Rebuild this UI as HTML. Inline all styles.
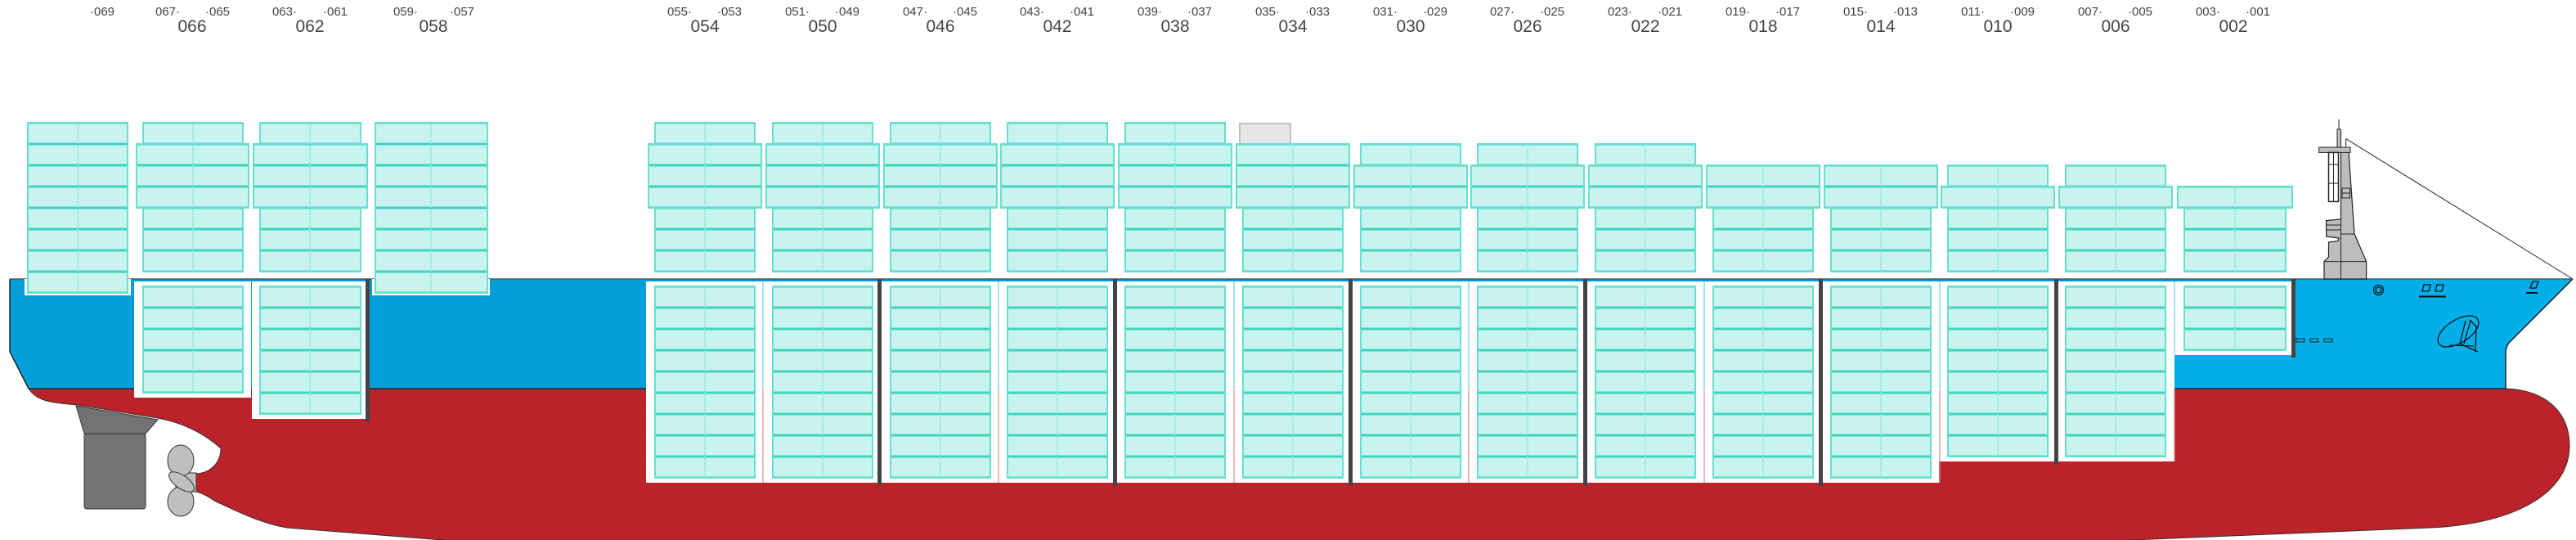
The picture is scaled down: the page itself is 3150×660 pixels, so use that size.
<!DOCTYPE html>
<html><head><meta charset="utf-8"><style>
html,body{margin:0;padding:0;background:#fff;width:3150px;height:660px;overflow:hidden}
svg{display:block}
text{font-family:"Liberation Sans",Arial,sans-serif;fill:#444}
.s{font-size:15px}.b{font-size:21px}
.n{fill:url(#pa);stroke:#66dfcf;stroke-width:2}
.h{fill:url(#pb);stroke:#66dfcf;stroke-width:2}
.c{stroke:#86e4d6;stroke-width:1.5;stroke-dasharray:2 1}
.k{fill:#444}
</style></head><body>
<svg width="3150" height="660" viewBox="0 0 3150 660" xmlns="http://www.w3.org/2000/svg">
<defs>
<pattern id="pa" patternUnits="userSpaceOnUse" x="0" y="150" width="10" height="26"><rect width="10" height="26" fill="#c9f3ee"/><rect width="10" height="1.5" fill="#40d3bf"/><rect y="24.5" width="10" height="1.5" fill="#40d3bf"/></pattern>
<pattern id="pb" patternUnits="userSpaceOnUse" x="0" y="350" width="10" height="26"><rect width="10" height="26" fill="#c9f3ee"/><rect width="10" height="1.5" fill="#40d3bf"/><rect y="24.5" width="10" height="1.5" fill="#40d3bf"/></pattern>
</defs>

<!-- hull -->
<path d="M35,475 H3064 C3115,477 3142,505 3142,545 C3142,600 3080,640 2972,645 L2510,664 L592,664 L351,645 C320,640 290,625 262,612 C255,607 248,603 240,601 V579 C258,578 270,565 270,548 C250,530 225,517 193,511 L95,495 C60,492 45,490 35,475 Z" fill="#bb2229" stroke="#333" stroke-width="1"/>
<path d="M12,341 H2806 V476 H35 L12,430 Z" fill="#029fda"/>
<path d="M2806,341 H3146 L3068,419 Q3064,424 3064,432 V476 H2806 Z" fill="#02aee8"/>
<rect x="2659" y="434" width="148" height="42" fill="#02aee8"/>
<path d="M12,341 V430 L35,475 H3064 M3146,341 L3068,419 Q3064,424 3064,432 V476" fill="none" stroke="#222" stroke-width="1.5"/>
<line x1="12" y1="341" x2="3146" y2="341" stroke="#555" stroke-width="1.5"/>

<!-- rudder + propeller -->
<path d="M93,496 L193,513 L178,530 L103,530 Z" fill="#737373" stroke="#333"/>
<rect x="103" y="530" width="75" height="92" rx="3" fill="#737373" stroke="#333"/>
<rect x="215" y="578" width="25" height="23" fill="#bfbfbf" stroke="#333"/>
<ellipse cx="221" cy="563" rx="16" ry="19" fill="#bfbfbf" stroke="#333"/>
<ellipse cx="221" cy="613" rx="16" ry="18" fill="#bfbfbf" stroke="#333"/>
<ellipse cx="222" cy="589" rx="18" ry="8" transform="rotate(35 222 589)" fill="#bfbfbf" stroke="#333"/>

<!-- white holds / backings -->
<rect x="30" y="341" width="130" height="20" fill="#fff"/>
<rect x="455" y="341" width="144" height="20" fill="#fff"/>
<rect x="164" y="344" width="143" height="142" fill="#fff"/>
<rect x="308" y="344" width="139" height="168" fill="#fff"/>
<rect x="790" y="344" width="1581" height="246" fill="#fff"/>
<rect x="2371" y="344" width="288" height="220" fill="#fff"/>
<rect x="2659" y="344" width="144" height="90" fill="#fff"/>

<!-- thin dividers -->
<g stroke-width="1.2">
<path d="M933,344V476M1221,344V476M1509,344V476M1796,344V476M2084,344V476M2372,344V476M2659,344V434" stroke="#6fcff0"/>
<path d="M933,476V590M1221,476V590M1509,476V590M1796,476V590M2084,476V590M2372,476V590M2659,476V564" stroke="#e08890"/>
</g>

<!-- bulkheads -->
<rect x="447" y="341" width="5" height="175" class="k"/>
<rect x="1073" y="341" width="5" height="253" class="k"/>
<rect x="1361" y="341" width="5" height="253" class="k"/>
<rect x="1649" y="341" width="5" height="253" class="k"/>
<rect x="1936" y="341" width="5" height="253" class="k"/>
<rect x="2224" y="341" width="5" height="253" class="k"/>
<rect x="2512" y="341" width="5" height="227" class="k"/>
<rect x="2802" y="341" width="5" height="96" class="k"/>
<g fill="none" stroke="#222" stroke-width="1"><rect x="2808" y="414" width="10" height="4"/><rect x="2825" y="414" width="10" height="4"/><rect x="2842" y="414" width="10" height="4"/></g>

<!-- stern stacks -->
<rect class="n" x="34" y="150" width="122" height="208"/><line class="c" x1="95" y1="150" x2="95" y2="358"/>
<rect class="n" x="459" y="150" width="137" height="208"/><line class="c" x1="527" y1="150" x2="527" y2="358"/>
<rect class="n" x="175" y="150" width="122" height="26"/><rect class="n" x="167" y="176" width="137" height="78"/><rect class="n" x="175" y="254" width="122" height="78"/><line class="c" x1="236" y1="150" x2="236" y2="332"/>
<rect class="n" x="318" y="150" width="123" height="26"/><rect class="n" x="310" y="176" width="139" height="78"/><rect class="n" x="318" y="254" width="123" height="78"/><line class="c" x1="379" y1="150" x2="379" y2="332"/>
<rect class="h" x="175" y="350" width="122" height="130"/><line class="c" x1="236" y1="350" x2="236" y2="480"/>
<rect class="h" x="318" y="350" width="123" height="156"/><line class="c" x1="379" y1="350" x2="379" y2="506"/>

<!-- main bays above deck -->
<g>
<rect class="n" x="801" y="150" width="122" height="26"/><rect class="n" x="793" y="176" width="138" height="78"/><rect class="n" x="801" y="254" width="122" height="78"/>
<rect class="n" x="945" y="150" width="122" height="26"/><rect class="n" x="937" y="176" width="138" height="78"/><rect class="n" x="945" y="254" width="122" height="78"/>
<rect class="n" x="1089" y="150" width="122" height="26"/><rect class="n" x="1081" y="176" width="138" height="78"/><rect class="n" x="1089" y="254" width="122" height="78"/>
<rect class="n" x="1232" y="150" width="122" height="26"/><rect class="n" x="1224" y="176" width="138" height="78"/><rect class="n" x="1232" y="254" width="122" height="78"/>
<rect class="n" x="1376" y="150" width="122" height="26"/><rect class="n" x="1368" y="176" width="138" height="78"/><rect class="n" x="1376" y="254" width="122" height="78"/>
<rect x="1516" y="151" width="62" height="26" fill="#e6e6e8" stroke="#bdbfc3" stroke-width="2"/><rect class="n" x="1512" y="176" width="138" height="78"/><rect class="n" x="1520" y="254" width="122" height="78"/>
<rect class="n" x="1664" y="176" width="122" height="26"/><rect class="n" x="1656" y="202" width="138" height="52"/><rect class="n" x="1664" y="254" width="122" height="78"/>
<rect class="n" x="1807" y="176" width="122" height="26"/><rect class="n" x="1799" y="202" width="138" height="52"/><rect class="n" x="1807" y="254" width="122" height="78"/>
<rect class="n" x="1951" y="176" width="122" height="26"/><rect class="n" x="1943" y="202" width="138" height="52"/><rect class="n" x="1951" y="254" width="122" height="78"/>
<rect class="n" x="2087" y="202" width="138" height="52"/><rect class="n" x="2095" y="254" width="122" height="78"/>
<rect class="n" x="2231" y="202" width="138" height="52"/><rect class="n" x="2239" y="254" width="122" height="78"/>
<rect class="n" x="2382" y="202" width="122" height="26"/><rect class="n" x="2374" y="228" width="138" height="26"/><rect class="n" x="2382" y="254" width="122" height="78"/>
<rect class="n" x="2526" y="202" width="122" height="26"/><rect class="n" x="2518" y="228" width="138" height="26"/><rect class="n" x="2526" y="254" width="122" height="78"/>
<rect class="n" x="2663" y="228" width="140" height="26"/><rect class="n" x="2671" y="254" width="124" height="78"/>
</g>
<g class="c">
<line x1="862" y1="150" x2="862" y2="332"/><line x1="1006" y1="150" x2="1006" y2="332"/><line x1="1150" y1="150" x2="1150" y2="332"/><line x1="1293" y1="150" x2="1293" y2="332"/><line x1="1437" y1="150" x2="1437" y2="332"/><line x1="1581" y1="176" x2="1581" y2="332"/><line x1="1725" y1="176" x2="1725" y2="332"/><line x1="1868" y1="176" x2="1868" y2="332"/><line x1="2012" y1="176" x2="2012" y2="332"/><line x1="2156" y1="202" x2="2156" y2="332"/><line x1="2300" y1="202" x2="2300" y2="332"/><line x1="2443" y1="202" x2="2443" y2="332"/><line x1="2587" y1="202" x2="2587" y2="332"/><line x1="2733" y1="228" x2="2733" y2="332"/>
</g>

<!-- holds -->
<g>
<rect class="h" x="801" y="350" width="122" height="234"/><rect class="h" x="945" y="350" width="122" height="234"/><rect class="h" x="1089" y="350" width="122" height="234"/><rect class="h" x="1232" y="350" width="122" height="234"/><rect class="h" x="1376" y="350" width="122" height="234"/><rect class="h" x="1520" y="350" width="122" height="234"/><rect class="h" x="1664" y="350" width="122" height="234"/><rect class="h" x="1807" y="350" width="122" height="234"/><rect class="h" x="1951" y="350" width="122" height="234"/><rect class="h" x="2095" y="350" width="122" height="234"/><rect class="h" x="2239" y="350" width="122" height="234"/>
<rect class="h" x="2382" y="350" width="122" height="208"/><rect class="h" x="2526" y="350" width="122" height="208"/>
<rect class="h" x="2671" y="350" width="124" height="78"/>
</g>
<g class="c">
<line x1="862" y1="350" x2="862" y2="584"/><line x1="1006" y1="350" x2="1006" y2="584"/><line x1="1150" y1="350" x2="1150" y2="584"/><line x1="1293" y1="350" x2="1293" y2="584"/><line x1="1437" y1="350" x2="1437" y2="584"/><line x1="1581" y1="350" x2="1581" y2="584"/><line x1="1725" y1="350" x2="1725" y2="584"/><line x1="1868" y1="350" x2="1868" y2="584"/><line x1="2012" y1="350" x2="2012" y2="584"/><line x1="2156" y1="350" x2="2156" y2="584"/><line x1="2300" y1="350" x2="2300" y2="584"/><line x1="2443" y1="350" x2="2443" y2="558"/><line x1="2587" y1="350" x2="2587" y2="558"/><line x1="2733" y1="350" x2="2733" y2="428"/>
</g>

<!-- forecastle mast -->
<line x1="2868.6" y1="169.6" x2="3146" y2="341" stroke="#222" stroke-width="1"/>
<line x1="2868.6" y1="169.6" x2="2868.6" y2="181" stroke="#222" stroke-width="1"/>
<line x1="2860" y1="146" x2="2860" y2="158" stroke="#222" stroke-width="1"/>
<rect x="2858" y="158" width="4.5" height="22" fill="#bfbfbf" stroke="#222"/>
<path d="M2862.5,185.7 L2872,185.7 L2879,285.7 L2893.6,319.6 V341 H2842 V319.6 L2847.5,314 V296 L2859,294.6 L2860,291 L2844.6,289 V269.6 L2862.5,268 Z" fill="#bdbdbd" stroke="#222" stroke-width="1.2"/>
<path d="M2862.5,268 V341 M2842,319.6 H2893.6 M2862.5,286 H2879" stroke="#222" fill="none"/>
<path d="M2845,275 H2862 M2845,281 H2862" stroke="#222"/>
<rect x="2835.7" y="180" width="38.3" height="6.4" fill="#bdbdbd" stroke="#222"/>
<rect x="2847.5" y="186.4" width="12" height="60" fill="#fff" stroke="#222" stroke-width="1.5"/>
<path d="M2853.5,186.4 V246.4 M2847.5,201 H2859.5 M2847.5,224 H2859.5" stroke="#222"/>
<rect x="2864" y="230" width="9.6" height="12" fill="#bdbdbd" stroke="#222"/>
<line x1="2864" y1="236" x2="2873.6" y2="236" stroke="#222"/>

<!-- bow details -->
<g fill="none" stroke="#111" stroke-width="1.3">
<circle cx="2908.5" cy="354.5" r="6"/><circle cx="2908.5" cy="354.5" r="3.5"/>
<path d="M2962,356 L2964,348 H2972 L2970,356 Z M2978,356 L2980,348 H2988 L2986,356 Z"/>
<path d="M2958,362.5 H2991" stroke-width="2"/>
<path d="M3094,352 L3097,344 H3104 L3101,352 Z"/>
<path d="M3089,358 H3103" stroke-width="2"/>
<ellipse cx="3006" cy="405" rx="28" ry="14" transform="rotate(-32 3006 405)"/>
<path d="M3015,392 L3008,420 M3021,392 L3013,420 M3020,391 L3028,399 L3027,430 M3008,420 L3030,430 M2995,422 L3025,423"/>
</g>

<!-- labels -->
<g class="s">
<text x="110" y="19">·069</text>
<text x="220" y="19" text-anchor="end">067·</text><text x="251" y="19">·065</text>
<text x="363" y="19" text-anchor="end">063·</text><text x="395" y="19">·061</text>
<text x="511" y="19" text-anchor="end">059·</text><text x="550" y="19">·057</text>
<text x="846" y="19" text-anchor="end">055·</text><text x="877" y="19">·053</text>
<text x="990" y="19" text-anchor="end">051·</text><text x="1021" y="19">·049</text>
<text x="1134" y="19" text-anchor="end">047·</text><text x="1165" y="19">·045</text>
<text x="1277" y="19" text-anchor="end">043·</text><text x="1308" y="19">·041</text>
<text x="1421" y="19" text-anchor="end">039·</text><text x="1452" y="19">·037</text>
<text x="1565" y="19" text-anchor="end">035·</text><text x="1596" y="19">·033</text>
<text x="1709" y="19" text-anchor="end">031·</text><text x="1740" y="19">·029</text>
<text x="1852" y="19" text-anchor="end">027·</text><text x="1883" y="19">·025</text>
<text x="1996" y="19" text-anchor="end">023·</text><text x="2027" y="19">·021</text>
<text x="2140" y="19" text-anchor="end">019·</text><text x="2171" y="19">·017</text>
<text x="2284" y="19" text-anchor="end">015·</text><text x="2315" y="19">·013</text>
<text x="2427" y="19" text-anchor="end">011·</text><text x="2458" y="19">·009</text>
<text x="2571" y="19" text-anchor="end">007·</text><text x="2602" y="19">·005</text>
<text x="2715" y="19" text-anchor="end">003·</text><text x="2746" y="19">·001</text>
</g>
<g class="b" text-anchor="middle">
<text x="235" y="39">066</text><text x="379" y="39">062</text><text x="530" y="39">058</text>
<text x="862" y="39">054</text><text x="1006" y="39">050</text><text x="1150" y="39">046</text><text x="1293" y="39">042</text><text x="1437" y="39">038</text><text x="1581" y="39">034</text><text x="1725" y="39">030</text><text x="1868" y="39">026</text><text x="2012" y="39">022</text><text x="2156" y="39">018</text><text x="2300" y="39">014</text><text x="2443" y="39">010</text><text x="2587" y="39">006</text><text x="2731" y="39">002</text>
</g>
</svg>
</body></html>
